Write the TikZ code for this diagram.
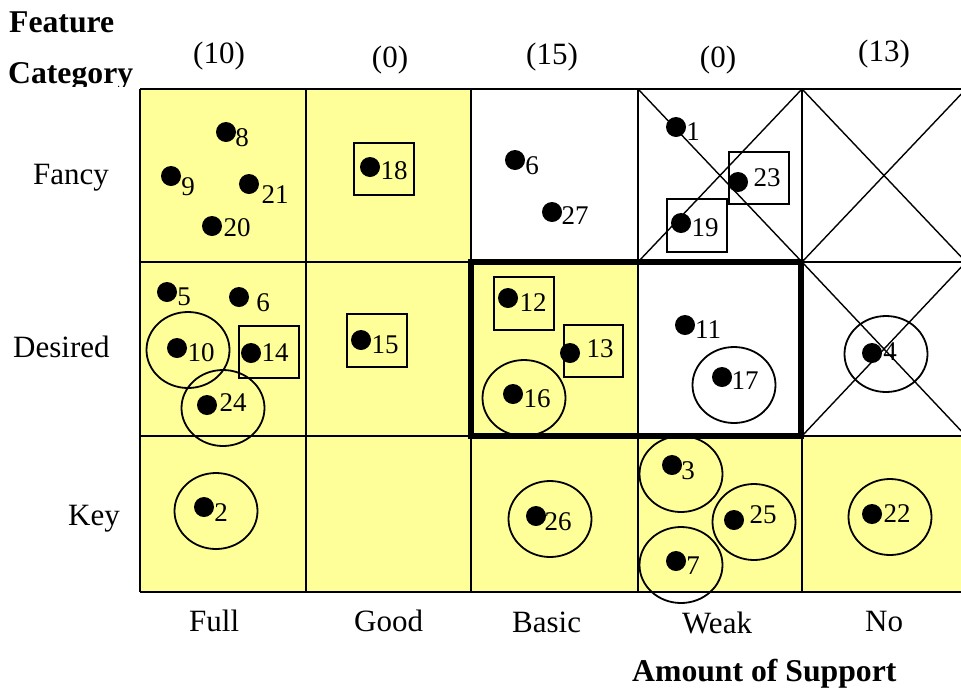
\documentclass[tikz,border=0pt]{standalone}
\usepackage{fontspec}
\setmainfont{Liberation Serif}
\usetikzlibrary{shapes.geometric}
\definecolor{cellyellow}{RGB}{255,255,153}

% one feature: a dot and its number
\newcommand\featpt[4]{%
  \node[featdot] (d#1) at (#2) {};
  \node[featnum] (n#1) at (#3) {#4};}

\begin{document}
\begin{tikzpicture}[x=1pt,y=-1pt,
  featdot/.style={circle, fill=black, inner sep=0pt, minimum size=20pt},
  featnum/.style={inner sep=0pt, font=\fontsize{27}{30}\selectfont},
  tagbox/.style={draw, line width=1.5pt, inner sep=0pt, minimum width=60pt, minimum height=52pt},
  ring/.style={ellipse, draw, line width=1.8pt, inner sep=0pt, minimum width=83pt, minimum height=76pt},
  axislabel/.style={inner sep=0pt, anchor=base west, font=\fontsize{31}{36}\selectfont},
  countlabel/.style={inner sep=0pt, anchor=base, font=\fontsize{31}{36}\selectfont},
  heading/.style={inner sep=0pt, anchor=base west, font=\bfseries\fontsize{31.7}{36}\selectfont},
  gridline/.style={line width=1.6pt},
  cross/.style={line width=1.4pt}]
\useasboundingbox (0,0) rectangle (961,694);

% ---- cell fills ----
\fill[cellyellow] (140,89) rectangle (471,262);
\fill[cellyellow] (140,262) rectangle (638,436);
\fill[cellyellow] (140,436) rectangle (966,592);

% ---- grid ----
\draw[gridline] (140,89) -- (966,89);
\draw[gridline] (140,262) -- (966,262);
\draw[gridline] (140,436) -- (966,436);
\draw[gridline] (140,592) -- (966,592);
\foreach \cx in {140,306,471,638,802}
  \draw[gridline] (\cx,89) -- (\cx,592);

% ---- excluded cells ----
\draw[cross] (638,89) -- (802,262) (638,262) -- (802,89);
\draw[cross] (802,89) -- (966,262) (802,262) -- (966,89);
\draw[cross] (802,262) -- (966,436) (802,436) -- (966,262);

% ---- highlighted block ----
\draw[line width=6.5pt] (471,262) rectangle (801,436);

% ---- headings ----
\node[heading] (feat) at (9,32) {Feature};
\begin{scope}
  \clip (0,50) rectangle (140,86);
  \node[heading] (cat) at (8,83) {Category};
\end{scope}
\node[heading] (amount) at (632,681) {Amount of Support};

% ---- column counts ----
\node[countlabel] (c1) at (219,63) {(10)};
\node[countlabel] (c2) at (390,67) {(0)};
\node[countlabel] (c3) at (552,64) {(15)};
\node[countlabel] (c4) at (718,67) {(0)};
\node[countlabel] (c5) at (884,61) {(13)};

% ---- row labels ----
\node[axislabel] (rFancy) at (33,184) {Fancy};
\node[axislabel] (rDesired) at (13,357) {Desired};
\node[axislabel] (rKey) at (68,525) {Key};

% ---- column labels ----
\node[axislabel] (kFull) at (189,631) {Full};
\node[axislabel] (kGood) at (354,631) {Good};
\node[axislabel] (kBasic) at (512,632) {Basic};
\node[axislabel] (kWeak) at (682,633) {Weak};
\node[axislabel] (kNo) at (865,631) {No};

% ---- boxes ----
\node[tagbox] (b18) at (384,169) {};
\node[tagbox] (b23) at (759,178) {};
\node[tagbox, minimum height=53pt] (b19) at (697,225.5) {};
\node[tagbox] (b14) at (269,352) {};
\node[tagbox, minimum height=53pt] (b15) at (377,340.5) {};
\node[tagbox, minimum height=53pt] (b12) at (524,303.5) {};
\node[tagbox, minimum width=59pt] (b13) at (593.5,351) {};

% ---- rings ----
\node[ring] (r10) at (188,350) {};
\node[ring] (r24) at (223,408) {};
\node[ring] (r16) at (524,398) {};
\node[ring] (r17) at (734,385) {};
\node[ring] (r4) at (886,354) {};
\node[ring] (r2) at (216,511) {};
\node[ring] (r26) at (550,519) {};
\node[ring] (r3) at (681,474) {};
\node[ring] (r25) at (754,522) {};
\node[ring] (r7) at (681,565) {};
\node[ring] (r22) at (890,517) {};

% ---- features: Fancy ----
\featpt{8}{226,132}{242,138}{8}
\featpt{9}{171,176}{188,187}{9}
\featpt{21}{249,184}{275,195}{21}
\featpt{20}{212,226}{237,228}{20}
\featpt{18}{370,167}{394,171}{18}
\featpt{6a}{515,160}{532,166}{6}
\featpt{27}{552,212}{575,216}{27}
\featpt{1}{676,127}{693,132}{1}
\featpt{23}{738,182}{767,178}{23}
\featpt{19}{681,223}{705,228}{19}

% ---- features: Desired ----
\featpt{5}{167,292}{184,297}{5}
\featpt{6b}{239,297}{263,303}{6}
\featpt{10}{177,348}{201,353}{10}
\featpt{14}{251,353}{275,353}{14}
\featpt{24}{207,405}{233,403}{24}
\featpt{15}{361,340}{385,345}{15}
\featpt{12}{508,298}{533,303}{12}
\featpt{13}{570,353}{600,349}{13}
\featpt{16}{513,394}{537,399}{16}
\featpt{11}{685,325}{708,330}{11}
\featpt{17}{722,377}{745,381}{17}
\featpt{4}{872,353}{890,352}{4}

% ---- features: Key ----
\featpt{2}{204,507}{221,513}{2}
\featpt{26}{536,516}{558,522}{26}
\featpt{3}{672,465}{688,471}{3}
\featpt{25}{734,520}{763,515}{25}
\featpt{7}{676,561}{693,566}{7}
\featpt{22}{872,514}{897,514}{22}
\end{tikzpicture}
\end{document}
